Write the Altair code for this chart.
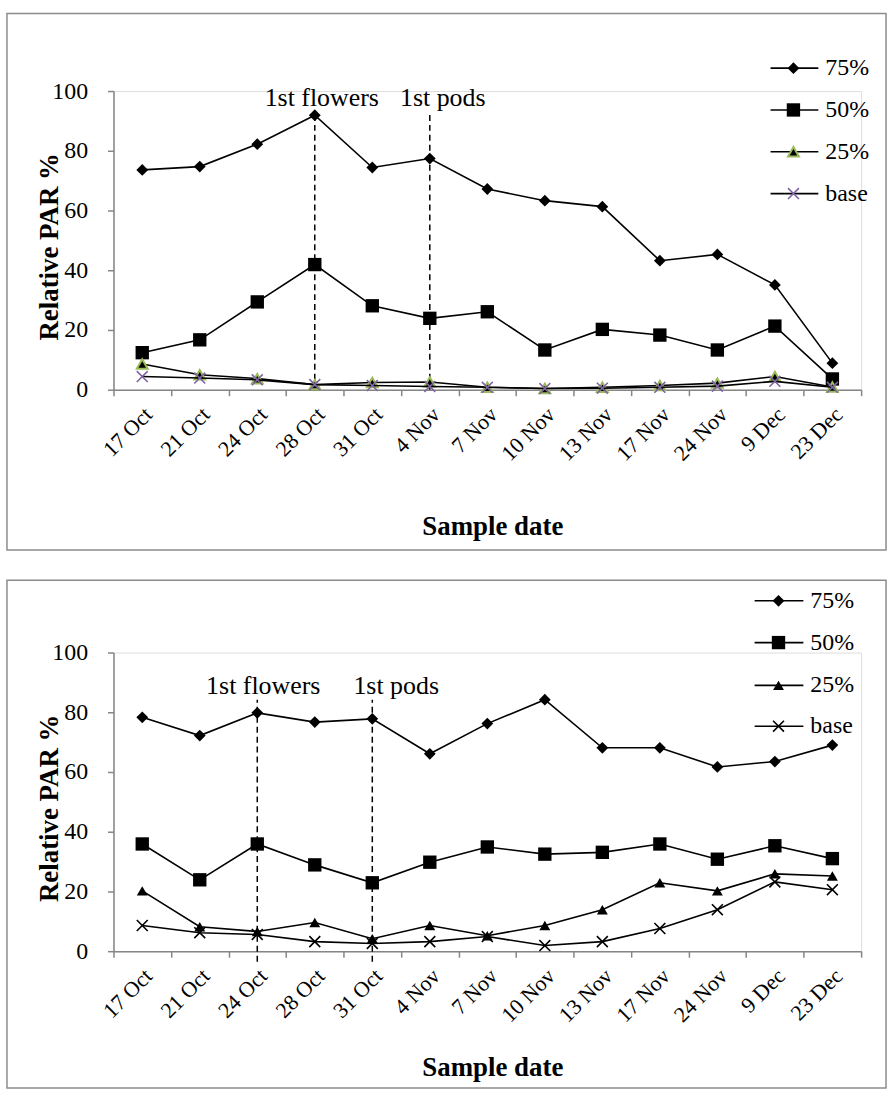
import altair as alt
import pandas as pd

# Sample dates (x categories) and canopy layers (series)
dates = ["17 Oct", "21 Oct", "24 Oct", "28 Oct", "31 Oct", "4 Nov", "7 Nov",
         "10 Nov", "13 Nov", "17 Nov", "24 Nov", "9 Dec", "23 Dec"]
series = ["75%", "50%", "25%", "base"]

# Upper panel: relative PAR % per layer
top_75 = [73.6, 74.7, 82.2, 91.9, 74.4, 77.4, 67.2, 63.3, 61.3, 43.2, 45.3, 35.1, 8.9]
top_50 = [12.4, 16.7, 29.4, 41.9, 28.1, 23.9, 26.1, 13.3, 20.2, 18.3, 13.3, 21.3, 3.6]
top_25 = [8.6, 5.0, 3.7, 1.7, 2.4, 2.6, 0.8, 0.4, 0.8, 1.4, 2.2, 4.4, 0.9]
top_base = [4.4, 3.9, 3.3, 1.7, 1.4, 1.1, 0.8, 0.4, 0.5, 0.8, 1.2, 2.8, 0.8]

# Lower panel: relative PAR % per layer
bot_75 = [78.3, 72.2, 79.8, 76.7, 77.8, 66.1, 76.2, 84.2, 68.1, 68.1, 61.7, 63.5, 69.0]
bot_50 = [35.9, 23.9, 35.9, 28.9, 22.9, 29.8, 34.9, 32.5, 33.1, 35.9, 30.8, 35.3, 31.0]
bot_25 = [20.2, 8.2, 6.6, 9.6, 4.2, 8.6, 5.2, 8.6, 13.9, 22.9, 20.2, 25.9, 25.2]
bot_base = [8.6, 6.2, 5.6, 3.2, 2.6, 3.2, 4.9, 1.9, 3.2, 7.6, 13.9, 23.2, 20.6]

# Crop stage events
event_names = ["1st flowers", "1st pods"]
top_event_dates = ["28 Oct", "4 Nov"]
bot_event_dates = ["24 Oct", "31 Oct"]

FONT = "Liberation Serif"
AXIS_GREY = "#868686"
W, H = 751, 300
X_PATH = "M-1,-1L1,1M-1,1L1,-1"


def long_frame(cols):
    rows = []
    for s, vals in zip(series, cols):
        for d, v in zip(dates, vals):
            rows.append({"date": d, "series": s, "value": v})
    return pd.DataFrame(rows)


def marker_props(s, coloured):
    if s == "75%":
        return dict(shape="diamond", size=140, filled=True, color="black", opacity=1)
    if s == "50%":
        return dict(shape="square", size=180, filled=True, color="black", opacity=1)
    if s == "25%":
        if coloured:
            return dict(shape="triangle-up", size=120, filled=True, fill="black",
                        stroke="#9BBB59", strokeWidth=2, opacity=1)
        return dict(shape="triangle-up", size=120, filled=True, color="black", opacity=1)
    stroke = "#8064A2" if coloured else "black"
    return dict(shape=X_PATH, size=120, filled=False, stroke=stroke,
                strokeWidth=1.6, opacity=1)


def panel(cols, ev_dates, ev_lo, ev_hi, ev_label_y, ev_dx, coloured,
          legend_y, legend_x, frame, xtitle_y):
    df = long_frame(cols)
    ev = pd.DataFrame({"date": ev_dates, "name": event_names,
                       "lo": ev_lo, "hi": ev_hi, "ly": ev_label_y})

    xscale = alt.Scale(type="band", paddingInner=0, paddingOuter=0, domain=dates)
    xaxis = alt.Axis(title="Sample date", labelAngle=315, labelAlign="right",
                     labelBaseline="middle", labelFont=FONT, labelFontSize=22,
                     labelColor="black", labelPadding=15, labelOffset=6,
                     labelOverlap=False,
                     tickBand="extent", tickSize=6, tickColor=AXIS_GREY,
                     domainColor=AXIS_GREY, domainWidth=1.5, tickWidth=1.5,
                     titleFont=FONT, titleFontSize=27, titleFontWeight="bold",
                     titleColor="black", titleX=W / 2 + 5, titleY=xtitle_y,
                     titleBaseline="middle", titleAlign="center", grid=False)
    yscale = alt.Scale(domain=[0, 100], nice=False, zero=False)
    yaxis = alt.Axis(title="Relative PAR %", values=[0, 20, 40, 60, 80, 100],
                     labelFont=FONT, labelFontSize=24, labelColor="black",
                     labelPadding=20, tickSize=6, tickColor=AXIS_GREY,
                     domainColor=AXIS_GREY, domainWidth=1.5, tickWidth=1.5,
                     titleFont=FONT, titleFontSize=27, titleFontWeight="bold",
                     titleColor="black", titleX=-64, titleY=H / 2 + 6,
                     titleAngle=270, titleBaseline="middle",
                     titleAlign="center", grid=False)

    def X():
        return alt.X("date:N", sort=dates, scale=xscale, axis=xaxis, title="Sample date")

    def Y(field):
        return alt.Y(f"{field}:Q", scale=yscale, axis=yaxis, title="Relative PAR %")

    one = pd.DataFrame({"k": [0]})
    fx0, fy0, fx1, fy1 = frame
    layers = [
        alt.Chart(one).mark_rect(filled=False, stroke="#8c8c8c", strokeWidth=1.5).encode(
            x=alt.value(fx0), x2=alt.value(fx1), y=alt.value(fy0), y2=alt.value(fy1))
    ]

    # stage markers
    layers.append(
        alt.Chart(ev).mark_rule(color="black", strokeWidth=1.5, strokeDash=[6, 4], clip=False)
        .encode(x=X(), y=Y("lo"), y2="hi:Q"))
    for i, name in enumerate(event_names):
        layers.append(
            alt.Chart(ev[ev["name"] == name]).mark_text(
                font=FONT, fontSize=26, color="black", baseline="middle",
                align="center", dx=ev_dx[i])
            .encode(x=X(), y=Y("ly"), text="name:N"))

    for s in series:
        sub = df[df["series"] == s]
        layers.append(alt.Chart(sub).mark_line(color="black", strokeWidth=1.6)
                      .encode(x=X(), y=Y("value")))
        layers.append(alt.Chart(sub).mark_point(**marker_props(s, coloured))
                      .encode(x=X(), y=Y("value")))

    # legend entries
    lx0, lxm, lx1, ltx = legend_x
    for s, ly in zip(series, legend_y):
        layers.append(alt.Chart(one).mark_rule(color="black", strokeWidth=1.6).encode(
            x=alt.value(lx0), x2=alt.value(lx1), y=alt.value(ly)))
        layers.append(alt.Chart(one).mark_point(**marker_props(s, coloured)).encode(
            x=alt.value(lxm), y=alt.value(ly)))
        layers.append(alt.Chart(one).mark_text(
            text=s, font=FONT, fontSize=24, color="black", align="left",
            baseline="middle").encode(x=alt.value(ltx), y=alt.value(ly)))

    return alt.layer(*layers).properties(width=W, height=H)


top = panel([top_75, top_50, top_25, top_base],
            top_event_dates, [0, 0], [92.5, 92.5], [97.7, 97.7], [7, 13], True,
            [-23, 19, 61, 103], (660, 683, 708, 715),
            (-107, -78, 776, 461), 137)

bottom = panel([bot_75, bot_50, bot_25, bot_base],
               bot_event_dates, [-3.5, -3.5], [84.2, 84.2], [88.9, 88.9], [6, 24], False,
               [-52, -10, 33, 74], (644, 668, 693, 700),
               (-107, -72.7, 776, 437.3), 117)

chart = alt.vconcat(top, bottom, spacing=27).properties(
    padding={"left": 5, "top": 9, "right": 5, "bottom": 5}
).configure_view(stroke=None).configure(background="white", font=FONT)

chart.save("out.html", embed_options={"renderer": "svg", "actions": False})
